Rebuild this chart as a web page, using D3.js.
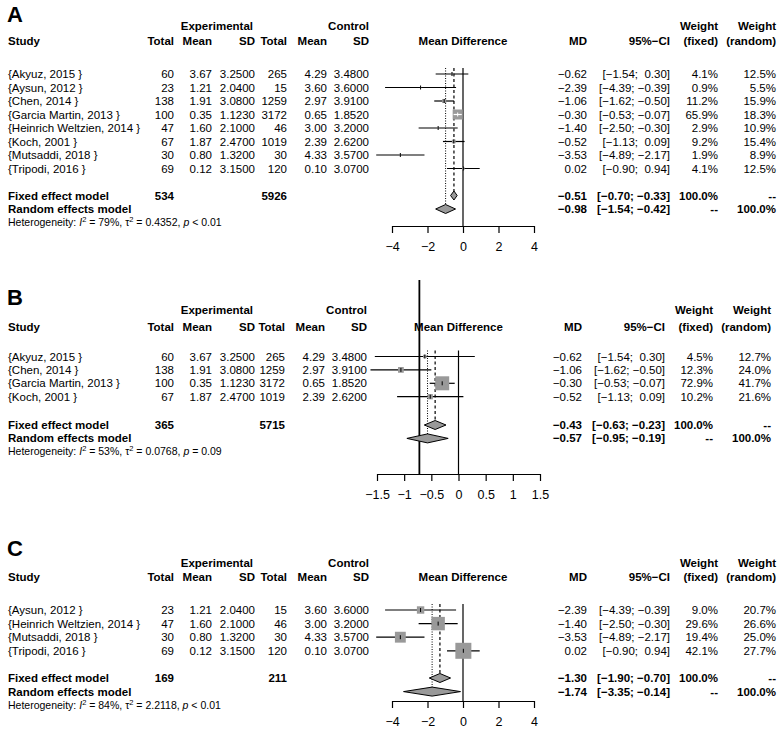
<!DOCTYPE html>
<html><head><meta charset="utf-8">
<script src="https://cdn.jsdelivr.net/npm/d3@7"></script>
<style>body{margin:0;background:#fff}</style>
</head><body><svg id="c" width="780" height="730" xmlns="http://www.w3.org/2000/svg"></svg>
<script>
// ---------- data ----------
const studies   = ["{Akyuz, 2015 }","{Aysun, 2012 }","{Chen, 2014 }","{Garcia Martin, 2013 }","{Heinrich Weltzien, 2014 }","{Koch, 2001 }","{Mutsaddi, 2018 }","{Tripodi, 2016 }"];
const expTotal  = [60, 23, 138, 100, 47, 67, 30, 69];
const expMean   = [3.67, 1.21, 1.91, 0.35, 1.60, 1.87, 0.80, 0.12];
const expSD     = [3.2500, 2.0400, 3.0800, 1.1230, 2.1000, 2.4700, 1.3200, 3.1500];
const ctrlTotal = [265, 15, 1259, 3172, 46, 1019, 30, 120];
const ctrlMean  = [4.29, 3.60, 2.97, 0.65, 3.00, 2.39, 4.33, 0.10];
const ctrlSD    = [3.4800, 3.6000, 3.9100, 1.8520, 3.2000, 2.6200, 3.5700, 3.0700];
const md        = [-0.62, -2.39, -1.06, -0.30, -1.40, -0.52, -3.53, 0.02];
const ciLow     = [-1.54, -4.39, -1.62, -0.53, -2.50, -1.13, -4.89, -0.90];
const ciHigh    = [0.30, -0.39, -0.50, -0.07, -0.30, 0.09, -2.17, 0.94];

const panelIdx  = {A:[0,1,2,3,4,5,6,7], B:[0,2,3,5], C:[1,4,6,7]};
const wFixedA   = [4.1, 0.9, 11.2, 65.9, 2.9, 9.2, 1.9, 4.1];
const wRandomA  = [12.5, 5.5, 15.9, 18.3, 10.9, 15.4, 8.9, 12.5];
const wFixedB   = [4.5, 12.3, 72.9, 10.2];
const wRandomB  = [12.7, 24.0, 41.7, 21.6];
const wFixedC   = [9.0, 29.6, 19.4, 42.1];
const wRandomC  = [20.7, 26.6, 25.0, 27.7];

const fixedEst  = {A:[-0.51,-0.70,-0.33], B:[-0.43,-0.63,-0.23], C:[-1.30,-1.90,-0.70]};
const randomEst = {A:[-0.98,-1.54,-0.42], B:[-0.57,-0.95,-0.19], C:[-1.74,-3.35,-0.14]};
const pooledN   = {A:[534,5926], B:[365,5715], C:[169,211]};
const hetI2     = {A:"79%", B:"53%", C:"84%"};
const hetTau2   = {A:"0.4352", B:"0.0768", C:"2.2118"};
const hetP      = {A:"< 0.01", B:"= 0.09", C:"< 0.01"};
const ticksAC   = [-4, -2, 0, 2, 4];
const ticksB    = [-1.5, -1, -0.5, 0, 0.5, 1, 1.5];

// ---------- helpers ----------
const FONT = '"Liberation Sans", Arial, Helvetica, sans-serif';
const FS = 11.5;
const svg = d3.select("#c");
const minus = s => s.replace(/-/g, "\u2212");
const f2 = v => minus(v.toFixed(2));
const f4 = v => v.toFixed(4);
const tickFmt = v => minus(String(v));
function ciStr(lo, hi){
  const a = (lo < 0 ? "" : " ") + f2(lo);
  const b = (hi < 0 ? "" : " ") + f2(hi);
  return "[" + a + "; " + b + "]";
}
function txt(g, x, y, s, opt={}){
  return g.append("text").attr("x", x).attr("y", y)
    .attr("dy", "0.35em")
    .attr("text-anchor", opt.anchor || "end")
    .attr("font-family", FONT)
    .attr("font-size", opt.size || FS)
    .attr("font-weight", opt.bold ? "bold" : "normal")
    .style("white-space", "pre")
    .attr("fill", "#000")
    .text(s);
}

const panels = [
  {key:"A", wF:wFixedA, wR:wRandomA, ticks:ticksAC, dom:[-4,4], rng:[392,534],
   yLab:14, yH1:26, yH2:41, row0:74, step:13.5, yFix:195.5, yAx:226, boxMax:10, dxL:0, dxR:0},
  {key:"B", wF:wFixedB, wR:wRandomB, ticks:ticksB, dom:[-1.5,1.5], rng:[377,540],
   yLab:297, yH1:310, yH2:327, row0:356.5, step:13.4, yFix:425, yAx:474, boxMax:14, dxL:-2, dxR:-5, artifact:true},
  {key:"C", wF:wFixedC, wR:wRandomC, ticks:ticksAC, dom:[-4,4], rng:[392,534],
   yLab:548, yH1:563, yH2:577, row0:610, step:13.6, yFix:678, yAx:701, boxMax:16, dxL:0, dxR:0}
];

panels.forEach(p => {
  const g = svg.append("g");
  const idx = panelIdx[p.key];
  const x = d3.scaleLinear().domain(p.dom).range(p.rng);
  const y = d3.scaleLinear().domain([0, idx.length-1]).range([p.row0, p.row0 + (idx.length-1)*p.step]);
  const size = d3.scaleSqrt().domain([0, d3.max(p.wF)]).range([0, p.boxMax]);
  const cx = {study:8, eT:174, eM:212, eS:255, cT:287+p.dxL, cM:327+p.dxL, cS:369+p.dxL,
              md:587+p.dxR, ci:670+p.dxR, wf:718+p.dxR, wr:776+p.dxR};

  // panel letter
  txt(g, 7, p.yLab, p.key, {anchor:"start", bold:true, size:22});
  // headers
  txt(g, 253, p.yH1, "Experimental", {bold:true});
  txt(g, cx.cS, p.yH1, "Control", {bold:true});
  txt(g, cx.wf, p.yH1, "Weight", {bold:true});
  txt(g, cx.wr, p.yH1, "Weight", {bold:true});
  txt(g, cx.study, p.yH2, "Study", {bold:true, anchor:"start"});
  [["Total",cx.eT],["Mean",cx.eM],["SD",cx.eS],["Total",cx.cT],["Mean",cx.cM],["SD",cx.cS],
   ["MD",cx.md],["95%\u2212CI",cx.ci],["(fixed)",cx.wf],["(random)",cx.wr]]
   .forEach(([s,xx]) => txt(g, xx, p.yH2, s, {bold:true}));
  txt(g, x(0), p.yH2, "Mean Difference", {bold:true, anchor:"middle"});

  // study rows text
  idx.forEach((k, i) => {
    const yy = y(i);
    txt(g, cx.study, yy, studies[k], {anchor:"start"});
    txt(g, cx.eT, yy, String(expTotal[k]));
    txt(g, cx.eM, yy, expMean[k].toFixed(2));
    txt(g, cx.eS, yy, f4(expSD[k]));
    txt(g, cx.cT, yy, String(ctrlTotal[k]));
    txt(g, cx.cM, yy, ctrlMean[k].toFixed(2));
    txt(g, cx.cS, yy, f4(ctrlSD[k]));
    txt(g, cx.md, yy, f2(md[k]));
    txt(g, cx.ci, yy, ciStr(ciLow[k], ciHigh[k]));
    txt(g, cx.wf, yy, p.wF[i].toFixed(1) + "%");
    txt(g, cx.wr, yy, p.wR[i].toFixed(1) + "%");
  });

  // pooled rows text
  const fe = fixedEst[p.key], re = randomEst[p.key];
  txt(g, cx.study, p.yFix, "Fixed effect model", {anchor:"start", bold:true});
  txt(g, cx.eT, p.yFix, String(pooledN[p.key][0]), {bold:true});
  txt(g, cx.cT, p.yFix, String(pooledN[p.key][1]), {bold:true});
  txt(g, cx.md, p.yFix, f2(fe[0]), {bold:true});
  txt(g, cx.ci, p.yFix, ciStr(fe[1], fe[2]), {bold:true});
  txt(g, cx.wf, p.yFix, "100.0%", {bold:true});
  txt(g, cx.wr, p.yFix, "--", {bold:true});
  const yR = p.yFix + p.step;
  txt(g, cx.study, yR, "Random effects model", {anchor:"start", bold:true});
  txt(g, cx.md, yR, f2(re[0]), {bold:true});
  txt(g, cx.ci, yR, ciStr(re[1], re[2]), {bold:true});
  txt(g, cx.wf, yR, "--", {bold:true});
  txt(g, cx.wr, yR, "100.0%", {bold:true});

  // heterogeneity
  const yH = yR + p.step;
  const ht = g.append("text").attr("x", cx.study).attr("y", yH).attr("dy","0.35em")
    .attr("font-family", FONT).attr("font-size", 10.5).attr("fill","#000");
  ht.append("tspan").text("Heterogeneity: ");
  ht.append("tspan").attr("font-style","italic").text("I");
  ht.append("tspan").attr("dy",-4).attr("font-size",7.5).text("2");
  ht.append("tspan").attr("dy",4).text(" = " + hetI2[p.key] + ", \u03c4");
  ht.append("tspan").attr("dy",-4).attr("font-size",7.5).text("2");
  ht.append("tspan").attr("dy",4).text(" = " + hetTau2[p.key] + ", ");
  ht.append("tspan").attr("font-style","italic").text("p");
  ht.append("tspan").text(" " + hetP[p.key]);

  // reference lines
  const top = p.row0 - 6;
  g.append("line").attr("x1", x(0)).attr("x2", x(0)).attr("y1", top).attr("y2", p.yAx)
    .attr("stroke","#000").attr("stroke-width",1.2);
  g.append("line").attr("x1", x(fe[0])).attr("x2", x(fe[0])).attr("y1", top).attr("y2", p.yFix - 4)
    .attr("stroke","#000").attr("stroke-width",1.2).attr("stroke-dasharray","3,2.5");
  g.append("line").attr("x1", x(re[0])).attr("x2", x(re[0])).attr("y1", top).attr("y2", yR - 4)
    .attr("stroke","#000").attr("stroke-width",1).attr("stroke-dasharray","1,1.5");
  if (p.artifact) {
    g.append("line").attr("x1", x(-0.72)).attr("x2", x(-0.72)).attr("y1", p.yH1 - 30).attr("y2", p.yAx)
      .attr("stroke","#000").attr("stroke-width",1.8);
  }

  // study marks
  idx.forEach((k, i) => {
    const yy = y(i);
    const s = size(p.wF[i]);
    const inside = (x(ciHigh[k]) - x(ciLow[k])) < s;
    g.append("line").attr("x1", x(ciLow[k])).attr("x2", x(ciHigh[k])).attr("y1", yy).attr("y2", yy)
      .attr("stroke","#000").attr("stroke-width",1.2);
    g.append("rect").attr("x", x(md[k]) - s/2).attr("y", yy - s/2).attr("width", s).attr("height", s)
      .attr("fill","#999999");
    if (inside) {
      g.append("line").attr("x1", x(ciLow[k])).attr("x2", x(ciHigh[k])).attr("y1", yy).attr("y2", yy)
        .attr("stroke","#fff").attr("stroke-width",1.2);
    }
    g.append("line").attr("x1", x(md[k])).attr("x2", x(md[k])).attr("y1", yy-2).attr("y2", yy+2)
      .attr("stroke", inside ? "#fff" : "#000").attr("stroke-width",1);
  });

  // diamonds
  const diamond = (est, yy) => {
    const pts = [[x(est[1]), yy],[x(est[0]), yy-4.5],[x(est[2]), yy],[x(est[0]), yy+4.5]];
    g.append("path").attr("d", d3.line()(pts) + "Z").attr("fill","#999999")
      .attr("stroke","#000").attr("stroke-width",1);
  };
  diamond(fe, p.yFix);
  diamond(re, yR);

  // axis
  const ax = g.append("g").attr("transform", `translate(0,${p.yAx})`)
    .call(d3.axisBottom(x).tickValues(p.ticks).tickFormat(tickFmt).tickSize(7).tickSizeOuter(0));
  ax.select(".domain").attr("stroke","#000").attr("stroke-width",1.2);
  ax.selectAll(".tick line").attr("stroke","#000").attr("stroke-width",1.2);
  ax.selectAll(".tick text").attr("font-family", FONT).attr("font-size", 12.5).attr("fill","#000")
    .attr("dy", "1.2em");
});
</script>
</body></html>
